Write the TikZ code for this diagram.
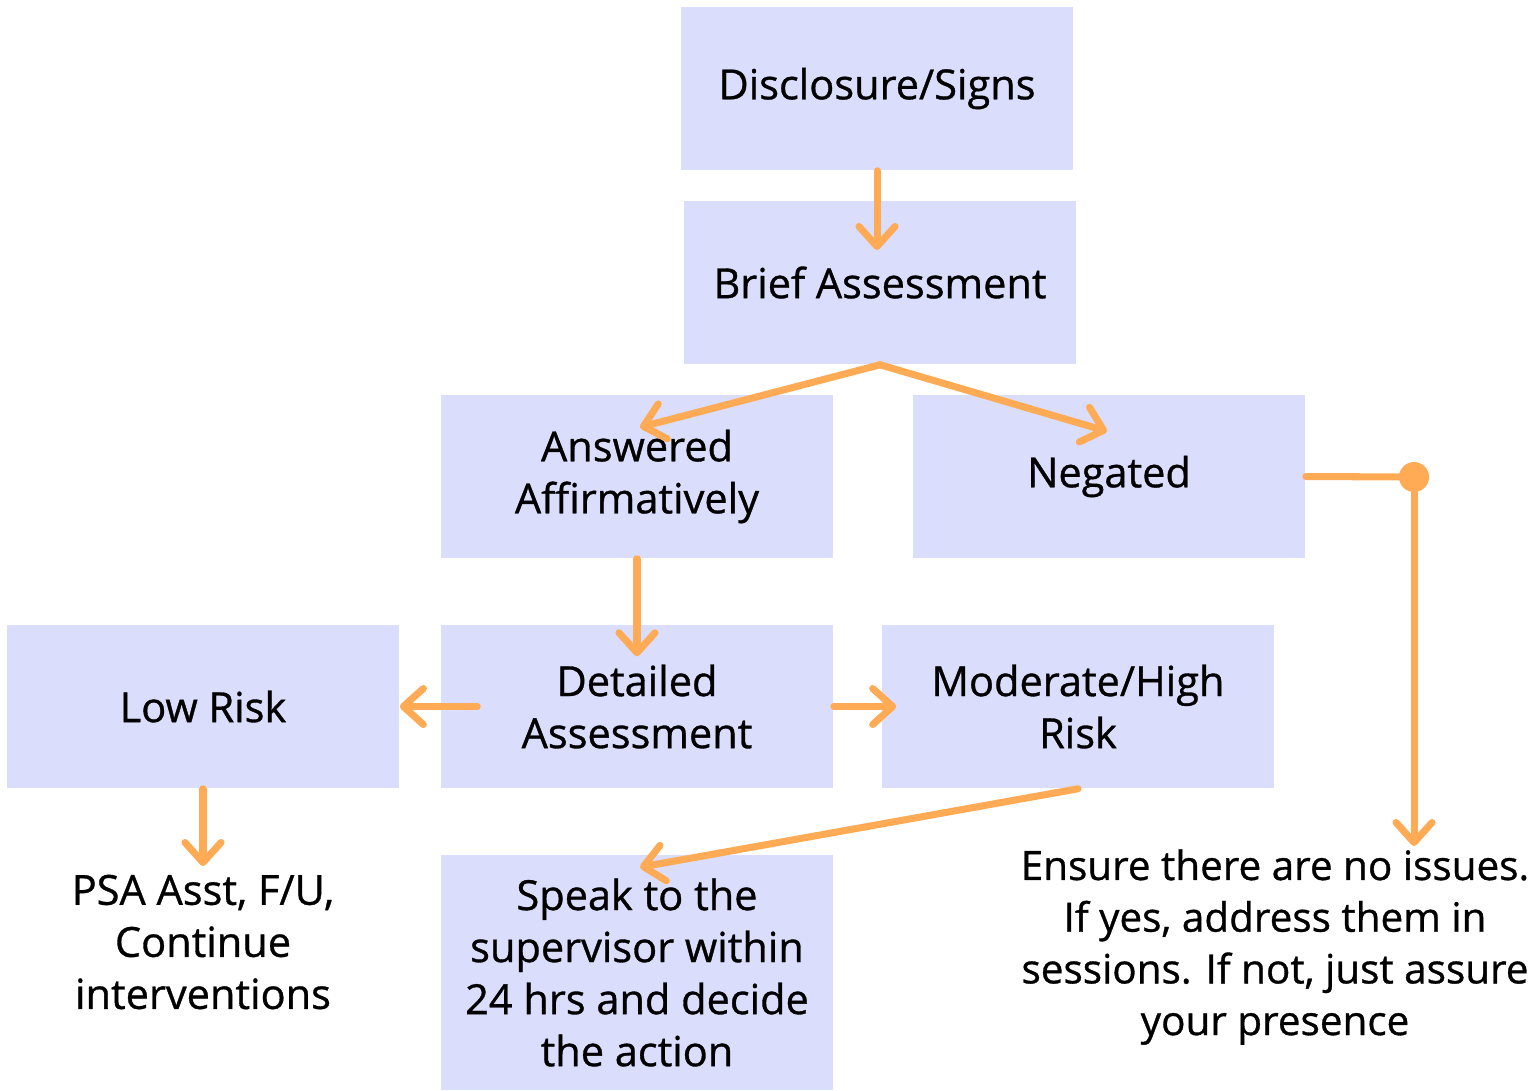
\documentclass[tikz,border=0pt]{standalone}
\usepackage{fontspec}
\setmainfont{Open Sans}[FakeBold=0.8]
\usetikzlibrary{arrows.meta}
\definecolor{boxfill}{HTML}{DADDFC}
\definecolor{flow}{HTML}{FFAA55}
\tikzset{
	stepbox/.style={fill=boxfill, minimum width=3.92cm, minimum height=1.63cm, inner sep=0pt, align=center, font=\fontsize{11.8}{14.8}\selectfont},
	plain/.style={align=center, inner sep=0pt, font=\fontsize{11.8}{14.8}\selectfont},
	flowline/.style={draw=flow, line width=2pt, line cap=round, line join=round},
	flowarrow/.style={flowline, -{Straight Barb[length=2mm, width=3.6mm, round]}}
}
\begin{document}
\begin{tikzpicture}[x=0.01cm, y=-0.01cm]
\useasboundingbox (0,0) rectangle (1537,1090);

% Boxes
\node[stepbox] (disc) at (877,88.5) {Disclosure/Signs};
\node[stepbox] (brief) at (880,282.5) {Brief Assessment};
\node[stepbox] (answ) at (637,476.5) {Answered\\Affirmatively};
\node[stepbox] (neg) at (1109,476.5) {Negated};
\node[stepbox] (low) at (203,706.5) {Low Risk};
\node[stepbox] (detail) at (637,706.5) {Detailed\\Assessment};
\node[stepbox] (mod) at (1078,706.5) {Moderate/High\\Risk};
\node[stepbox, minimum height=2.35cm] (speak) at (637,972.5) {Speak to the\\supervisor within\\24 hrs and decide\\the action};

% Plain texts
\node[plain] (psa) at (203,942) {PSA Asst, F/U,\\Continue\\interventions};
\node[plain, font=\fontsize{11.5}{14.7}\selectfont] (ensure) at (1275,947) {Ensure there are no issues.\\If yes, address them in\\sessions. If not, just assure\\your presence};

% Connectors
\coordinate (briefin) at (877,250);
\coordinate (knot) at (1414,477);
\coordinate (ensuretop) at (1414,846);
\coordinate (psatop) at (203,866);
\draw[flowarrow] (disc.south) -- (briefin);
\draw[flowarrow] (brief.south) -- ([xshift=0.03cm, yshift=-0.33cm]answ.north);
\draw[flowarrow] (brief.south) -- ([xshift=-0.02cm, yshift=-0.37cm]neg.north);
\draw[flowarrow] (answ.south) -- ([yshift=-0.32cm]detail.north);
\draw[flowarrow] ([xshift=0.37cm]detail.west) -- (low.east);
\draw[flowarrow] (detail.east) -- ([xshift=0.15cm]mod.west);
\draw[flowarrow] (mod.south) -- ([xshift=0.03cm, yshift=-0.13cm]speak.north);
\draw[flowarrow] (low.south) -- (psatop);
\draw[flowline] (neg.east) -- (knot);
\fill[flow] (knot) circle (15);
\draw[flowarrow] (knot) -- (ensuretop);

\end{tikzpicture}
\end{document}
